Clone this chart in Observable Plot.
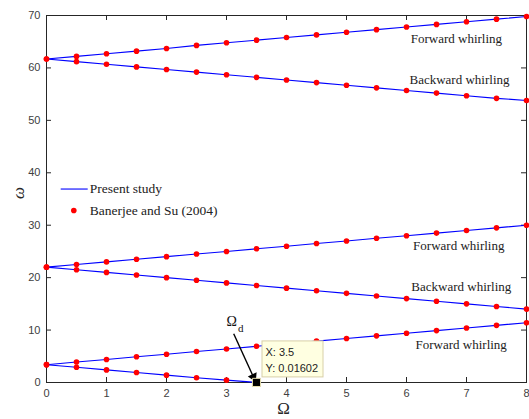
<!DOCTYPE html>
<html>
<head>
<meta charset="utf-8">
<script src="https://cdn.jsdelivr.net/npm/d3@7"></script>
<script src="https://cdn.jsdelivr.net/npm/@observablehq/plot@0.6"></script>
<style>
  html, body { margin: 0; padding: 0; background: #fff; }
  #chart { width: 529px; height: 419px; }
</style>
</head>
<body>
<div id="chart"></div>
<script>
// Rotational speed Ω (x values)
const omegaX = [0, 0.5, 1, 1.5, 2, 2.5, 3, 3.5, 4, 4.5, 5, 5.5, 6, 6.5, 7, 7.5, 8];
// Natural frequencies ω (present study / Banerjee and Su share these points)
const forward1  = [61.7, 62.2, 62.7, 63.2, 63.7, 64.3, 64.8, 65.3, 65.8, 66.3, 66.8, 67.3, 67.8, 68.3, 68.8, 69.3, 69.8];
const backward1 = [61.7, 61.2, 60.7, 60.2, 59.7, 59.2, 58.7, 58.2, 57.7, 57.2, 56.7, 56.2, 55.7, 55.2, 54.7, 54.2, 53.8];
const forward2  = [22.0, 22.5, 23.0, 23.5, 24.0, 24.5, 25.0, 25.5, 26.0, 26.5, 27.0, 27.5, 28.0, 28.5, 29.0, 29.5, 30.0];
const backward2 = [22.0, 21.5, 21.0, 20.5, 20.0, 19.5, 19.0, 18.5, 18.0, 17.5, 17.0, 16.5, 16.0, 15.5, 15.0, 14.5, 14.0];
const forward3  = [3.4, 3.9, 4.4, 4.9, 5.4, 5.9, 6.4, 6.9, 7.4, 7.9, 8.4, 8.9, 9.4, 9.9, 10.4, 10.9, 11.4];
const backward3 = [3.4, 2.9, 2.4, 1.9, 1.4, 0.9, 0.45, 0.01602];

// Tick values
const xTicks = [0, 1, 2, 3, 4, 5, 6, 7, 8];
const yTicks = [0, 10, 20, 30, 40, 50, 60, 70];

// Annotation labels
const labelTexts = ["Forward whirling", "Backward whirling", "Forward whirling", "Backward whirling", "Forward whirling"];
const labelX = [6.07, 6.05, 6.11, 6.08, 6.15];
const labelY = [65.6, 57.7, 26.1, 18.3, 7.2];

// Data tip (critical speed)
const tipX = [3.5];
const tipY = [0.01602];
const tipLines = ["X: 3.5", "Y: 0.01602"];

// Ω_d annotation arrow
const arrowFrom = [3.12, 9.3];
const arrowTo = [3.44, 1.3];

// Legend entries
const legendNames = ["Present study", "Banerjee and Su (2004)"];
const legendY = [36.9, 32.8];

const seriesList = [
  ["f1", forward1], ["b1", backward1],
  ["f2", forward2], ["b2", backward2],
  ["f3", forward3], ["b3", backward3]
];
const rows = [];
for (const [s, vals] of seriesList) {
  vals.forEach((v, i) => rows.push({s, x: omegaX[i], y: v}));
}
const dotRows = rows.filter(d => !(d.s === "b3" && d.x === tipX[0]));
const labels = labelTexts.map((t, i) => ({t, x: labelX[i], y: labelY[i]}));
const tip = [{x: tipX[0], y: tipY[0]}];
const arrow = [{x1: arrowFrom[0], y1: arrowFrom[1], x2: arrowTo[0], y2: arrowTo[1]}];

const serif = "'Liberation Serif', 'Times New Roman', serif";
const sans = "'Liberation Sans', Arial, Helvetica, sans-serif";
const axisColor = "#262626";

const plot = Plot.plot({
  width: 529,
  height: 419,
  marginLeft: 46,
  marginRight: 3,
  marginTop: 15,
  marginBottom: 37,
  style: {fontFamily: sans, fontSize: "11px", color: axisColor, background: "#fff"},
  x: {domain: [0, 8]},
  y: {domain: [0, 70]},
  marks: [
    Plot.frame({stroke: axisColor, strokeWidth: 1}),
    // inward ticks, MATLAB style
    Plot.ruleX(xTicks, {x: d => d, y1: 0, y2: 0, insetTop: -5, stroke: axisColor}),
    Plot.ruleX(xTicks, {x: d => d, y1: 70, y2: 70, insetBottom: -5, stroke: axisColor}),
    Plot.ruleY(yTicks, {y: d => d, x1: 0, x2: 0, insetRight: -5, stroke: axisColor}),
    Plot.ruleY(yTicks, {y: d => d, x1: 8, x2: 8, insetLeft: -5, stroke: axisColor}),
    Plot.axisX(xTicks, {tickSize: 0, tickPadding: 7, label: null, fill: "#404040", fontSize: 11}),
    Plot.axisY(yTicks, {tickSize: 0, tickPadding: 6, label: null, fill: "#404040", fontSize: 11}),
    // axis labels
    Plot.text(["Ω"], {frameAnchor: "bottom", x: 3.95, dy: 31, fontFamily: serif, fontSize: 17, fill: axisColor}),
    Plot.text(["ω"], {frameAnchor: "left", dx: -28, rotate: -90, fontFamily: serif, fontStyle: "italic", fontSize: 17, fill: axisColor}),
    // data
    Plot.line(rows, {x: "x", y: "y", z: "s", stroke: "#0000ff", strokeWidth: 1.1}),
    Plot.dot(dotRows, {x: "x", y: "y", r: 2.8, fill: "#ff0000", stroke: "none"}),
    // whirling labels
    Plot.text(labels, {x: "x", y: "y", text: "t", textAnchor: "start", fontFamily: serif, fontSize: 13, fill: "#222"}),
    // Ω_d arrow and label
    Plot.link(arrow, {x1: "x1", y1: "y1", x2: "x2", y2: "y2", stroke: "#000", strokeWidth: 1.4}),
    Plot.dot(arrow, {x: "x2", y: "y2", symbol: "triangle", r: 3.6, rotate: 155, dx: 0.5, dy: 1.2, fill: "#000", stroke: "none"}),
    Plot.text(arrow, {x: "x1", y: "y1", text: () => "Ω", dx: -2, dy: -12, fontFamily: serif, fontSize: 14, fill: "#111"}),
    Plot.text(arrow, {x: "x1", y: "y1", text: () => "d", dx: 7, dy: -5, fontFamily: serif, fontSize: 11, fill: "#111"}),
    // datatip
    Plot.rect(tip, {x1: "x", y1: "y", x2: "x", y2: "y", insetLeft: 6, insetRight: -67, insetTop: -41, insetBottom: 5, fill: "#ffffe1", stroke: "#d8d0a8", strokeWidth: 1}),
    Plot.text(tip, {x: "x", y: "y", text: () => tipLines[0], dx: 9, dy: -30, textAnchor: "start", fontFamily: sans, fontSize: 11, fill: "#222"}),
    Plot.text(tip, {x: "x", y: "y", text: () => tipLines[1], dx: 9, dy: -14, textAnchor: "start", fontFamily: sans, fontSize: 11, fill: "#222"}),
    Plot.dot(tip, {x: "x", y: "y", symbol: "square", r: 4.6, fill: "#000", stroke: "#e8e0b0", strokeWidth: 1}),
    // legend
    Plot.ruleY([legendY[0]], {y: d => d, x1: 0.245, x2: 0.695, stroke: "#0000ff", strokeWidth: 1.1}),
    Plot.dot([legendY[1]], {x: 0.455, y: d => d, r: 2.8, fill: "#ff0000"}),
    Plot.text(legendNames, {x: 0.72, y: (d, i) => legendY[i], text: d => d, textAnchor: "start", fontFamily: serif, fontSize: 13.5, fill: "#222"})
  ]
});
document.getElementById("chart").appendChild(plot);
</script>
</body>
</html>
